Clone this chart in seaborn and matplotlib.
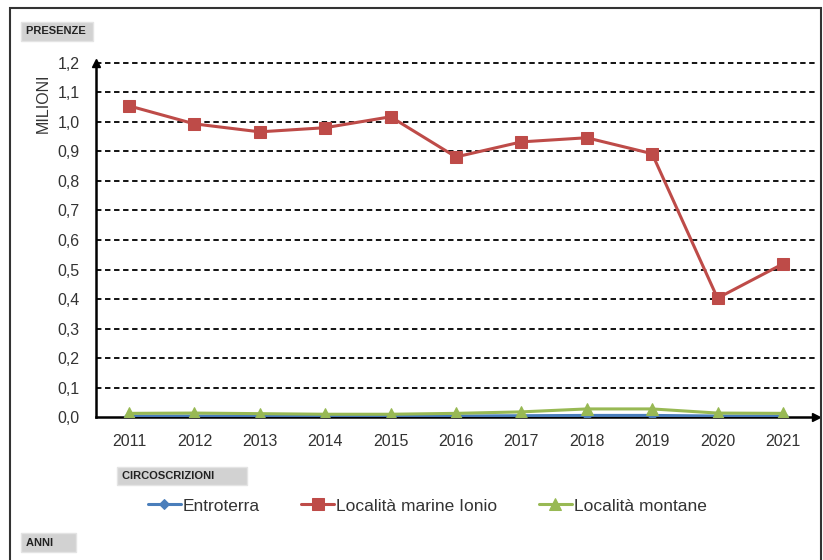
import numpy as np
import pandas as pd
import matplotlib.pyplot as plt
import seaborn as sns
from matplotlib.patches import Rectangle

years = ['2011', '2012', '2013', '2014', '2015', '2016', '2017', '2018', '2019', '2020', '2021']
entroterra = [0.004, 0.004, 0.004, 0.003, 0.003, 0.004, 0.005, 0.006, 0.006, 0.004, 0.004]
marine_ionio = [1.054, 0.993, 0.966, 0.980, 1.017, 0.881, 0.932, 0.946, 0.892, 0.403, 0.519]
montane = [0.013, 0.014, 0.012, 0.010, 0.010, 0.013, 0.018, 0.028, 0.028, 0.014, 0.013]
series_names = ['Entroterra', 'Località marine Ionio', 'Località montane']
colors = ['#4a7ebb', '#be4b48', '#98b954']
markers = ['D', 's', '^']
marker_sizes = [5, 8, 8]

sns.set_style('white')
plt.rcParams['font.family'] = ['Liberation Sans Narrow', 'Liberation Sans', 'DejaVu Sans']

df = pd.DataFrame({
    'idx': list(range(len(years))) * 3,
    'valore': entroterra + marine_ionio + montane,
    'serie': [n for n in series_names for _ in years],
})

fig = plt.figure(figsize=(8.23, 5.60), dpi=100)
ax = fig.add_axes([0.117, 0.255, 0.874, 0.633])

for name, col, mk, ms in zip(series_names, colors, markers, marker_sizes):
    sub = df[df['serie'] == name]
    sns.lineplot(data=sub, x='idx', y='valore', color=col, marker=mk, markersize=ms,
                 markeredgecolor=col, linewidth=2.2, ax=ax, label=name, zorder=3)

ax.set_xlim(-0.5, len(years) - 0.5)
ax.set_ylim(0, 1.2)
yt = np.round(np.arange(0, 1.21, 0.1), 1)
ax.set_yticks(yt)
ax.set_yticklabels([f'{v:.1f}'.replace('.', ',') for v in yt], fontsize=11.5, color='#333333')
ax.set_xticks(range(len(years)))
ax.set_xticklabels(years, fontsize=11.5, color='#333333')
ax.set_xticks(np.arange(-0.5, len(years), 1), minor=True)
ax.tick_params(axis='x', which='major', length=0, pad=12)
ax.tick_params(axis='x', which='minor', length=6, width=1.2, color='black', direction='in')
ax.tick_params(axis='y', length=0, pad=12)
for v in yt[1:]:
    ax.axhline(v, color='black', linestyle=(0, (3, 2)), linewidth=1.3, zorder=1, clip_on=False)
ax.set_xlabel('')
ax.set_ylabel('')
for s in ['top', 'right']:
    ax.spines[s].set_visible(False)
ax.spines['left'].set_linewidth(1.8)
ax.spines['bottom'].set_linewidth(1.8)
ax.spines['left'].set_color('black')
ax.spines['bottom'].set_color('black')
ax.plot(0, 1, '^k', markersize=6, transform=ax.transAxes, clip_on=False, zorder=5)
ax.plot(1, 0, '>k', markersize=6, transform=ax.transAxes, clip_on=False, zorder=5)

leg = ax.legend(loc='upper center', bbox_to_anchor=(0.46, -0.185), ncol=3, frameon=False,
                fontsize=12.5, handlelength=1.9, handletextpad=0.1, columnspacing=2.4)
for t in leg.get_texts():
    t.set_color('#333333')

fig.text(0.052, 0.815, 'MILIONI', rotation=90, fontsize=11.5, ha='center', va='center', color='#333333')

box = dict(boxstyle='square,pad=0.4', facecolor='#d2d2d2', edgecolor='#e4e4e4')
fig.text(0.031, 0.944, 'PRESENZE ', fontsize=8, fontweight='bold', ha='left', va='center',
         color='#222222', bbox=box)
fig.text(0.148, 0.150, 'CIRCOSCRIZIONI         ', fontsize=8, fontweight='bold', ha='left', va='center',
         color='#222222', bbox=box)
fig.text(0.031, 0.031, 'ANNI      ', fontsize=8, fontweight='bold', ha='left', va='center',
         color='#222222', bbox=box)

fig.patches.append(Rectangle((0.012, -0.02), 0.985, 1.006, transform=fig.transFigure,
                             fill=False, edgecolor='#333333', linewidth=1.5))

fig.savefig('out.png', dpi=100)
plt.close(fig)
